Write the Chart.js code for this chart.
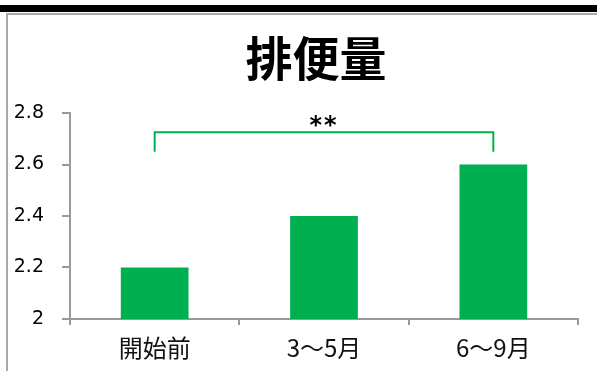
<!DOCTYPE html>
<html>
<head>
<meta charset="utf-8">
<script src="https://cdn.jsdelivr.net/npm/chart.js@4/dist/chart.umd.min.js"></script>
<style>
  html, body { margin: 0; padding: 0; background: #fff; }
  #wrap { position: relative; width: 597px; height: 371px; overflow: hidden; }
</style>
</head>
<body>
<div id="wrap"><canvas id="c" width="597" height="371"></canvas></div>
<script>
const categories = ['開始前', '3～5月', '6～9月'];
const values = [2.2, 2.4, 2.6];
const yTickLabels = ['2', '2.2', '2.4', '2.6', '2.8'];
const title = '排便量';

// significance bracket between first and last bar
const sigFrom = 0;
const sigTo = 2;
const sigTop = 2.725;
const sigFoot = 2.65;
const sigLabel = '**';

const green = '#00B050';
const axisGrey = '#9a9a9a';

const decor = {
  id: 'decor',
  beforeDraw(chart) {
    const c = chart.ctx;
    c.save();
    // black band and panel frame
    c.fillStyle = '#000';
    c.fillRect(0, 5, chart.width, 7);
    c.strokeStyle = '#a8a8a8';
    c.lineWidth = 2;
    c.beginPath();
    c.moveTo(7, chart.height + 2);
    c.lineTo(7, 14);
    c.lineTo(chart.width + 2, 14);
    c.stroke();
    // title
    const a = chart.chartArea;
    c.fillStyle = '#000';
    c.font = 'bold 47px "Noto Sans CJK JP"';
    c.textAlign = 'center';
    c.textBaseline = 'middle';
    c.fillText(title, (a.left + a.right) / 2 - 8, 58);
    c.restore();
  },
  afterDatasetsDraw(chart) {
    const c = chart.ctx;
    const bars = chart.getDatasetMeta(0).data;
    const y = chart.scales.y;
    const x1 = bars[sigFrom].x, x2 = bars[sigTo].x;
    const yt = y.getPixelForValue(sigTop), yf = y.getPixelForValue(sigFoot);
    c.save();
    c.strokeStyle = green;
    c.lineWidth = 2;
    c.beginPath();
    c.moveTo(x1, yf);
    c.lineTo(x1, yt);
    c.lineTo(x2, yt);
    c.lineTo(x2, yf);
    c.stroke();
    c.fillStyle = '#000';
    c.font = 'bold 24px "DejaVu Sans"';
    c.letterSpacing = '2px';
    c.textAlign = 'center';
    c.textBaseline = 'alphabetic';
    c.fillText(sigLabel, (x1 + x2) / 2, yt + 1);
    c.restore();
  }
};

new Chart(document.getElementById('c'), {
  type: 'bar',
  data: {
    labels: categories,
    datasets: [{
      data: values,
      backgroundColor: green,
      borderWidth: 0,
      categoryPercentage: 0.4,
      barPercentage: 1
    }]
  },
  options: {
    responsive: false,
    animation: false,
    layout: { padding: { top: 113, right: 19, left: 0, bottom: 0 } },
    plugins: { legend: { display: false }, tooltip: { enabled: false }, title: { display: false } },
    scales: {
      x: {
        afterFit(s) { s.height = 52; },
        border: { color: axisGrey, width: 2 },
        grid: { drawOnChartArea: false, tickLength: 6, color: axisGrey, lineWidth: 2, offset: true },
        ticks: { color: '#111', padding: 8, font: { family: '"Noto Sans CJK JP"', size: 24 } }
      },
      y: {
        min: 2,
        max: 2.8,
        afterFit(s) { s.width = 70; },
        border: { color: axisGrey, width: 2 },
        grid: { drawOnChartArea: false, tickLength: 8, color: axisGrey, lineWidth: 2 },
        ticks: {
          stepSize: 0.2,
          color: '#000',
          padding: 18,
          font: { family: '"DejaVu Sans"', size: 19 },
          callback: (v, i) => yTickLabels[i]
        }
      }
    }
  },
  plugins: [decor]
});
</script>
</body>
</html>
